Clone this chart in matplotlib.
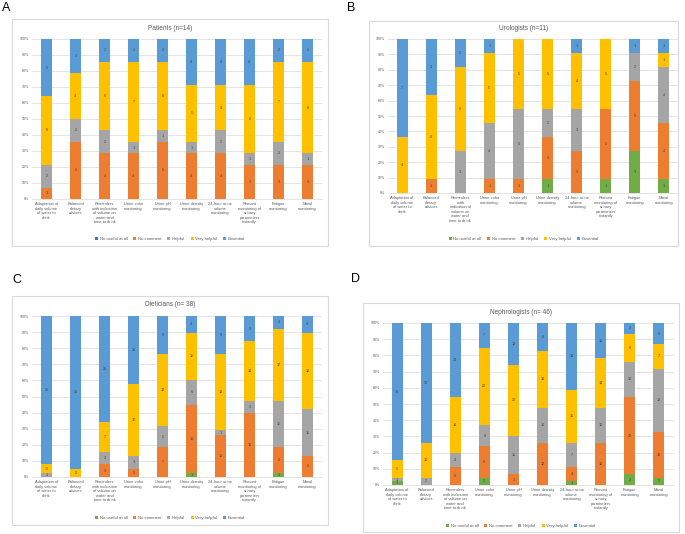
import matplotlib
matplotlib.use("Agg")
import matplotlib.pyplot as plt
from matplotlib.patches import Rectangle, Patch
import numpy as np

plt.rcParams['font.family'] = ['Liberation Sans', 'DejaVu Sans']

categories = ["Adaptation of\ndaily volume\nof water to\ndrink", "Balanced\ndietary\nadvices",
              "Reminders\nwith indication\nof volume on\nwater and\ntime to drink",
              "Urine color\nmonitoring", "Urine pH\nmonitoring", "Urine density\nmonitoring",
              "24-hour urine\nvolume\nmonitoring",
              "Remont\nmonitoring of\nurinary\nparameters\ninstantly",
              "Fatigue\nmonitoring", "Moral\nmonitoring"]
categories_b = ["Adaptation of\ndaily volume\nof water to\ndrink", "Balanced\ndietary\nadvices",
                "Reminders\nwith\nindication of\nvolume on\nwater and\ntime to drink",
                "Urine color\nmonitoring", "Urine pH\nmonitoring", "Urine density\nmonitoring",
                "24-hour urine\nvolume\nmonitoring",
                "Remont\nmonitoring of\nurinary\nparameters\ninstantly",
                "Fatigue\nmonitoring", "Moral\nmonitoring"]
series_names = ["No useful at all", "No comment", "Helpful", "Very helpful", "Essential"]
y_ticks = [0, 10, 20, 30, 40, 50, 60, 70, 80, 90, 100]

patients_not_useful = [0, 0, 0, 0, 0, 0, 0, 0, 0, 0]
patients_no_comment = [1, 5, 4, 4, 5, 4, 4, 3, 3, 3]
patients_helpful = [2, 2, 2, 1, 1, 1, 2, 1, 2, 1]
patients_very_helpful = [6, 4, 6, 7, 6, 5, 4, 6, 7, 8]
patients_essential = [5, 3, 2, 2, 2, 4, 4, 4, 2, 2]

urologists_not_useful = [0, 0, 0, 0, 0, 1, 0, 1, 3, 1]
urologists_no_comment = [0, 1, 0, 1, 1, 3, 3, 5, 5, 4]
urologists_helpful = [0, 0, 3, 4, 5, 2, 3, 0, 2, 4]
urologists_very_helpful = [4, 6, 6, 5, 5, 5, 4, 5, 0, 1]
urologists_essential = [7, 4, 2, 1, 0, 0, 1, 0, 1, 1]

dieticians_not_useful = [0, 0, 0, 0, 0, 1, 0, 0, 1, 0]
dieticians_no_comment = [0, 0, 3, 2, 7, 16, 10, 15, 6, 5]
dieticians_helpful = [1, 0, 3, 3, 5, 6, 1, 3, 11, 11]
dieticians_very_helpful = [2, 2, 7, 17, 17, 11, 18, 14, 17, 18]
dieticians_essential = [35, 36, 25, 16, 9, 4, 9, 6, 3, 4]

nephro_not_useful = [1, 0, 0, 2, 0, 0, 1, 0, 3, 2]
nephro_no_comment = [0, 0, 5, 9, 3, 12, 4, 12, 22, 13]
nephro_helpful = [1, 2, 4, 6, 11, 10, 7, 10, 10, 18]
nephro_very_helpful = [5, 10, 16, 22, 20, 16, 15, 14, 8, 7]
nephro_essential = [39, 34, 21, 7, 12, 8, 19, 10, 3, 6]

W, H = 685, 534
fig = plt.figure(figsize=(W / 100, H / 100), dpi=100)
fig.patch.set_facecolor('white')

def fx(x):
    return x / W

def fy(y):
    return 1 - y / H

colors_common = ["#70AD47", "#ED7D31", "#A5A5A5", "#FFC000", "#5B9BD5"]
colors_a = ["#4472C4", "#ED7D31", "#A5A5A5", "#FFC000", "#5B9BD5"]

panels = [
    dict(letter="A", lpos=(2, 8), box=(12, 19, 328, 246), ax=(32, 39, 322, 199),
         title="Patients (n=14)", title_y=29, legend_y=239, cats=categories, colors=colors_a,
         data=[patients_not_useful, patients_no_comment, patients_helpful,
               patients_very_helpful, patients_essential]),
    dict(letter="B", lpos=(347, 8), box=(369, 21, 678, 246), ax=(387.5, 39, 678.5, 193),
         title="Urologists (n=11)", title_y=29, legend_y=239, cats=categories_b, colors=colors_common,
         data=[urologists_not_useful, urologists_no_comment, urologists_helpful,
               urologists_very_helpful, urologists_essential]),
    dict(letter="C", lpos=(12, 280), box=(12, 296, 328, 525), ax=(32, 316, 322, 477),
         title="Dieticians (n= 38)", title_y=305, legend_y=518, cats=categories, colors=colors_common,
         data=[dieticians_not_useful, dieticians_no_comment, dieticians_helpful,
               dieticians_very_helpful, dieticians_essential]),
    dict(letter="D", lpos=(351, 279), box=(363, 303, 679, 532), ax=(382.5, 323, 673.5, 485),
         title="Nephrologists (n= 46)", title_y=313, legend_y=526, cats=categories, colors=colors_common,
         data=[nephro_not_useful, nephro_no_comment, nephro_helpful,
               nephro_very_helpful, nephro_essential]),
]

for p in panels:
    x0, y0, x1, y1 = p["box"]
    fig.patches.append(Rectangle((fx(x0), fy(y1)), fx(x1) - fx(x0), fy(y0) - fy(y1),
                                 transform=fig.transFigure, facecolor='none',
                                 edgecolor='#D9D9D9', linewidth=0.8, zorder=-5))
    fig.text(fx(p["lpos"][0]), fy(p["lpos"][1]), p["letter"], fontsize=9,
             ha='left', va='center', color='black')
    fig.text(fx((x0 + x1) / 2), fy(p["title_y"]), p["title"], fontsize=4.7,
             ha='center', va='center', color='#595959')

    a0, b0, a1, b1 = p["ax"]
    ax = fig.add_axes([fx(a0), fy(b1), fx(a1) - fx(a0), fy(b0) - fy(b1)], zorder=2)
    ax.set_facecolor('none')
    data = np.array(p["data"], dtype=float)
    totals = data.sum(axis=0)
    pct = data / totals * 100
    xpos = np.arange(len(p["cats"]))
    bottom = np.zeros(len(xpos))
    for i, name in enumerate(series_names):
        bars = ax.bar(xpos, pct[i], 0.38, bottom=bottom, color=p["colors"][i],
                      label=name, zorder=2)
        labels = [str(int(v)) if v > 0 else "" for v in data[i]]
        ax.bar_label(bars, labels=labels, label_type='center', fontsize=2.7,
                     color='#404040')
        bottom += pct[i]
    ax.set_xlim(-0.5, len(xpos) - 0.5)
    ax.set_ylim(0, 100)
    ax.set_yticks(y_ticks)
    ax.set_yticklabels([f"{t}%" for t in y_ticks])
    ax.set_xticks(xpos)
    ax.set_xticklabels(p["cats"], fontsize=2.9, color='#595959', linespacing=1.15)
    ax.tick_params(axis='y', labelsize=2.6, colors='#595959', length=0, pad=2)
    ax.tick_params(axis='x', length=0, pad=2.5)
    ax.grid(axis='y', color='#D9D9D9', linewidth=0.5, zorder=0)
    ax.set_axisbelow(True)
    for s in ax.spines.values():
        s.set_visible(False)
    ax.spines['bottom'].set_visible(True)
    ax.spines['bottom'].set_color('#D9D9D9')
    ax.spines['bottom'].set_linewidth(0.5)

    handles = [Patch(facecolor=c, label=n) for c, n in zip(p["colors"], series_names)]
    fig.legend(handles=handles, loc='center', bbox_to_anchor=(fx((x0 + x1) / 2), fy(p["legend_y"])),
               ncol=5, frameon=False, fontsize=3.1, handlelength=0.7, handleheight=0.7,
               handletextpad=0.4, columnspacing=1.3, labelcolor='#595959')

fig.savefig("out.png", dpi=100, facecolor='white')
